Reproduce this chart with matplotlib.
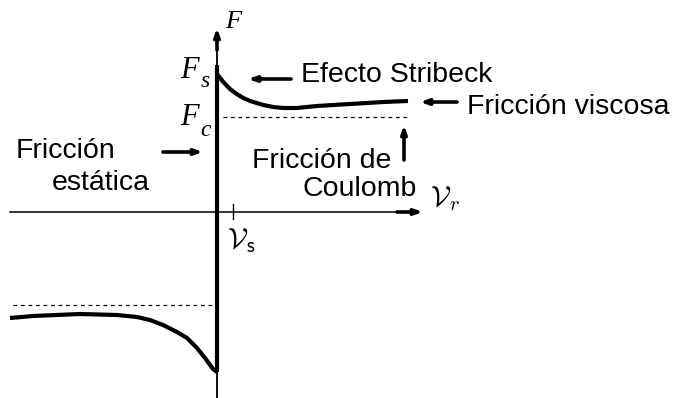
import matplotlib
matplotlib.use("Agg")
import matplotlib.pyplot as plt

# Stribeck curve (v in units, F in units)
v_pos = [0.00, 0.063, 0.13, 0.197, 0.263, 0.33, 0.397, 0.463, 0.563, 0.663,
         0.797, 0.897, 1.00, 1.16, 1.33, 1.50, 1.66, 1.91]
F_pos = [1.38, 1.30, 1.23, 1.18, 1.14, 1.11, 1.09, 1.07, 1.05, 1.04,
         1.04, 1.05, 1.06, 1.07, 1.08, 1.09, 1.10, 1.11]
v_neg = [-2.07, -1.84, -1.37, -1.00, -0.80, -0.67, -0.54, -0.40, -0.30,
         -0.20, -0.12, -0.04, 0.00]
F_neg = [-1.06, -1.04, -1.02, -1.03, -1.05, -1.08, -1.13, -1.20, -1.26,
         -1.36, -1.46, -1.57, -1.60]
Fc_pos = 0.95
Fc_neg = -0.93
v_s = 0.16

fig = plt.figure(figsize=(6.73, 3.98), dpi=100)
ax = fig.add_axes([0, 0, 1, 1])
ax.set_xlim(-2.17, 4.56)
ax.set_ylim(-1.86, 2.12)
ax.axis("off")

# axes
ax.plot([-2.07, 2.0], [0, 0], color="black", lw=1.1)
ax.plot([0, 0], [-1.86, 1.70], color="black", lw=1.3)
ax.plot([0, 0], [-1.60, 1.47], color="black", lw=3.0, solid_capstyle="butt")
ax.plot([v_s, v_s], [-0.07, 0.08], color="black", lw=1.0)

arrow = dict(arrowstyle="-|>,head_length=0.45,head_width=0.16", lw=2.6,
             color="black", shrinkA=0, shrinkB=0)
ax.annotate("", xy=(2.06, 0), xytext=(1.80, 0), arrowprops=arrow)
ax.annotate("", xy=(0, 1.84), xytext=(0, 1.62), arrowprops=arrow)

# Coulomb levels
ax.plot([0.06, 1.91], [Fc_pos, Fc_pos], color="black", lw=0.9, ls=(0, (3, 3)))
ax.plot([-2.04, -0.04], [Fc_neg, Fc_neg], color="black", lw=0.9, ls=(0, (3, 3)))

# friction curve
ax.plot(v_pos, F_pos, color="black", lw=3.0, solid_capstyle="butt", solid_joinstyle="round")
ax.plot(v_neg, F_neg, color="black", lw=3.0, solid_capstyle="butt", solid_joinstyle="round")

# annotation arrows
ax.annotate("", xy=(0.31, 1.33), xytext=(0.74, 1.33), arrowprops=arrow)
ax.annotate("", xy=(2.03, 1.10), xytext=(2.40, 1.10), arrowprops=arrow)
ax.annotate("", xy=(1.87, 0.87), xytext=(1.87, 0.52), arrowprops=arrow)
ax.annotate("", xy=(-0.14, 0.60), xytext=(-0.54, 0.60), arrowprops=arrow)

# texts
tkw = dict(fontsize=20.5, family="Liberation Sans", color="black", va="baseline", ha="left")
ax.text(0.84, 1.30, "Efecto Stribeck", **tkw)
ax.text(2.50, 0.98, "Fricción viscosa", **tkw)
ax.text(0.35, 0.44, "Fricción de", **tkw)
ax.text(0.85, 0.16, "Coulomb", **tkw)
ax.text(-2.01, 0.54, "Fricción", **tkw)
ax.text(-1.65, 0.22, "estática", **tkw)

# symbol labels
skw = dict(family="Liberation Serif", style="italic", color="black", va="baseline", ha="left")
ax.text(0.08, 1.84, "F", fontsize=19, **skw)
ax.text(-0.37, 1.34, "F", fontsize=22, **skw)
ax.text(-0.165, 1.25, "s", fontsize=17, **skw)
ax.text(-0.37, 0.87, "F", fontsize=22, **skw)
ax.text(-0.165, 0.76, "c", fontsize=17, **skw)
ax.text(2.13, 0.06, r"$\mathcal{V}_r$", fontsize=21, math_fontfamily="cm", va="baseline", ha="left")
ax.text(0.10, -0.36, r"$\mathcal{V}_{\mathsf{s}}$", fontsize=21, math_fontfamily="cm", va="baseline", ha="left")

fig.savefig("out.png", dpi=100)
